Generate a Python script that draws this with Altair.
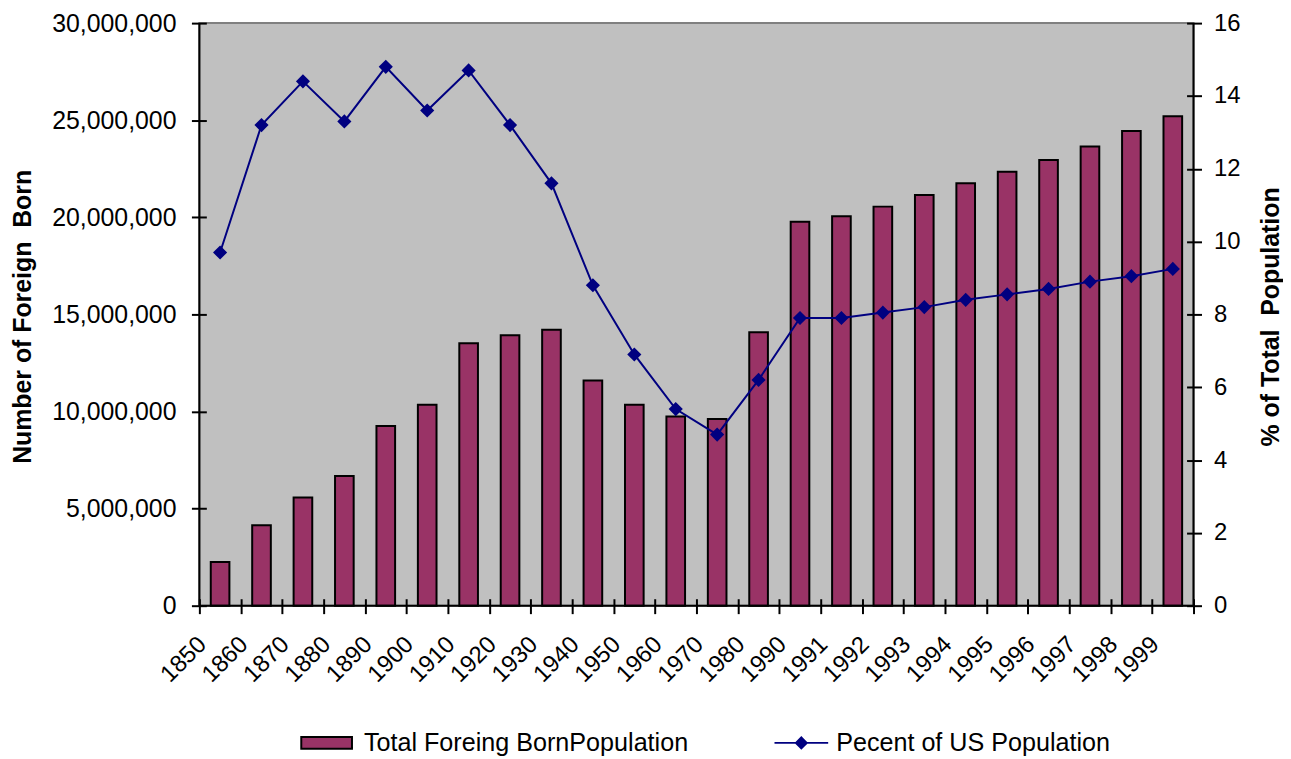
import altair as alt
import pandas as pd

years = ["1850", "1860", "1870", "1880", "1890", "1900", "1910", "1920", "1930",
         "1940", "1950", "1960", "1970", "1980", "1990", "1991", "1992", "1993",
         "1994", "1995", "1996", "1997", "1998", "1999"]
foreign_born = [2244602, 4138697, 5567229, 6679943, 9249547, 10341276, 13515886,
                13920692, 14204149, 11594896, 10347395, 9738091, 9619302, 14079906,
                19767316, 20050000, 20550000, 21150000, 21750000, 22350000,
                22950000, 23650000, 24450000, 25200000]
percent_us = [9.7, 13.2, 14.4, 13.3, 14.8, 13.6, 14.7, 13.2, 11.6, 8.8, 6.9, 5.4,
              4.7, 6.2, 7.9, 7.9, 8.05, 8.2, 8.4, 8.55, 8.7, 8.9, 9.05, 9.25]
bar_series = "Total Foreing BornPopulation"
line_series = "Pecent of US Population"
left_title = "Number of Foreign\u00a0 Born"
right_title = "% of Total\u00a0 Population"
left_ticks = [0, 5000000, 10000000, 15000000, 20000000, 25000000, 30000000]
right_ticks = [0, 2, 4, 6, 8, 10, 12, 14, 16]

df = pd.DataFrame({
    "year": years,
    "fb": foreign_born,
    "pct": percent_us,
    "s1": [bar_series] * len(years),
    "s2": [line_series] * len(years),
})

FONT = "Liberation Sans"
W, H = 1000, 586

x_enc = alt.X(
    "year:N", sort=years,
    scale=alt.Scale(paddingInner=0, paddingOuter=0),
    axis=alt.Axis(
        title=None, labelAngle=-45, labelAlign="right", labelBaseline="middle",
        labelFontSize=24, labelFont=FONT, labelColor="black", labelPadding=27,
        labelOffset=-18,
        tickBand="extent", tickSize=15, tickWidth=2, tickColor="black",
        offset=-7, domain=False, labelOverlap=False,
    ),
)

bars = alt.Chart(df).mark_bar(
    stroke="black", strokeWidth=2, width=alt.RelativeBandSize(0.45)
).encode(
    x=x_enc,
    y=alt.Y(
        "fb:Q",
        scale=alt.Scale(domain=[0, 30000000], nice=False),
        axis=alt.Axis(
            values=left_ticks, format=",d", title=left_title,
            labelFontSize=25, labelFont=FONT, labelColor="black", labelPadding=15.5,
            tickSize=15, tickWidth=2, tickColor="black", offset=-7, domain=False,
            grid=False, titleFont=FONT, titleFontSize=25, titleFontWeight="bold",
            titleColor="black", titleAngle=270, titleX=-184.5, titleY=295,
            titleBaseline="middle", titleAlign="center",
        ),
    ),
    fill=alt.Fill(
        "s1:N",
        scale=alt.Scale(domain=[bar_series], range=["#993366"]),
        legend=alt.Legend(
            title=None, orient="none", legendX=101.5, legendY=697.5, padding=0,
            symbolType="M-1,-0.235H1V0.235H-1Z", symbolSize=2601,
            symbolStrokeColor="black", symbolStrokeWidth=2, symbolOpacity=1,
            labelFont=FONT, labelFontSize=25.3, labelColor="black", labelOffset=11,
            labelLimit=0,
        ),
    ),
)

line = alt.Chart(df).mark_line(
    strokeWidth=2, color="#000080",
    point=alt.OverlayMarkDef(shape="diamond", filled=True, fill="#000080",
                             size=130, opacity=1),
).encode(
    x=alt.X("year:N", sort=years),
    y=alt.Y(
        "pct:Q",
        scale=alt.Scale(domain=[0, 16], nice=False),
        axis=alt.Axis(
            orient="right", values=right_ticks, format="d",
            title=right_title,
            labelFontSize=24, labelFont=FONT, labelColor="black", labelPadding=12,
            tickSize=15, tickWidth=2, tickColor="black", offset=-7, domain=False,
            grid=False, titleFont=FONT, titleFontSize=25, titleFontWeight="bold",
            titleColor="black", titleAngle=270, titleX=84, titleY=295,
            titleBaseline="middle", titleAlign="center",
        ),
    ),
    stroke=alt.Stroke(
        "s2:N",
        scale=alt.Scale(domain=[line_series], range=["#000080"]),
        legend=alt.Legend(
            title=None, orient="none", legendX=577.5, legendY=696, padding=0,
            symbolType="M-1,0H1M0,-0.2L0.2,0L0,0.2L-0.2,0Z", symbolSize=2916,
            symbolFillColor="#000080", symbolStrokeColor="#000080",
            symbolStrokeWidth=2, symbolOpacity=1,
            labelFont=FONT, labelFontSize=25.3, labelColor="black", labelOffset=7,
            labelLimit=0,
        ),
    ),
)

# black frame lines on the left, right and bottom of the plot area (top stays grey)
frame_df = pd.DataFrame({"k": [0]})
left_edge = alt.Chart(frame_df).mark_rule(color="black", strokeWidth=2).encode(
    x=alt.value(0), y=alt.value(0), y2=alt.value(H))
right_edge = alt.Chart(frame_df).mark_rule(color="black", strokeWidth=2).encode(
    x=alt.value(W), y=alt.value(0), y2=alt.value(H))
bottom_edge = alt.Chart(frame_df).mark_rule(color="black", strokeWidth=2).encode(
    x=alt.value(0), x2=alt.value(W), y=alt.value(H))

chart = alt.layer(bars, line, left_edge, right_edge, bottom_edge).resolve_scale(
    y="independent", fill="independent", stroke="independent"
).properties(
    width=W, height=H,
    autosize=alt.AutoSizeParams(type="none"),
    padding={"left": 192.5, "top": 13, "right": 90, "bottom": 150},
    background="white",
).configure_view(
    fill="#C0C0C0", stroke="#808080", strokeWidth=2,
)

chart.save("out.html", embed_options={"renderer": "svg", "actions": False})
